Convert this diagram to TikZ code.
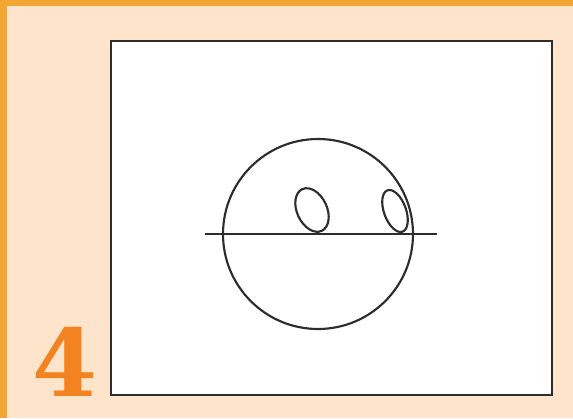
\documentclass[tikz,border=0pt]{standalone}
\usepackage{fontspec}
\newfontfamily\numfont{DejaVu Serif}
\definecolor{peach}{RGB}{253,228,202}
\definecolor{barorange}{RGB}{244,166,52}
\definecolor{numorange}{RGB}{243,130,33}
\definecolor{inkgray}{RGB}{45,45,45}
\tikzset{every picture/.style={line width=0.75pt}}

\begin{document}
\begin{tikzpicture}[x=0.75pt,y=0.75pt,yscale=-1,xscale=1]
\useasboundingbox (0,0) rectangle (573,418);

%Background
\fill [color=peach] (0,0) rectangle (573,418);
%Orange bars
\fill [color=barorange] (0,0) rectangle (573,6);
\fill [color=barorange] (0,0) rectangle (7,418);

%Frame
\draw [color=inkgray, fill=white, line width=2] (111,41) rectangle (552,395);

%Shape: Circle
\draw [color=inkgray, line width=1.6] (318,234) circle (95);
%Straight Lines
\draw [color=inkgray, line width=1.6] (205,234) -- (437,234);
%Shape: Ellipse
\draw [color=inkgray, line width=1.6, rotate around={-25:(312,210)}] (312,210) ellipse (15 and 23);
%Shape: Ellipse
\draw [color=inkgray, line width=1.6, rotate around={-20:(395,211)}] (395,211) ellipse (11 and 22);

% Text Node
\draw (65,396) node [anchor=base][inner sep=0pt, text=numorange] (stepnum) {\fontsize{70}{70}\selectfont\numfont\bfseries 4};

\end{tikzpicture}
\end{document}
